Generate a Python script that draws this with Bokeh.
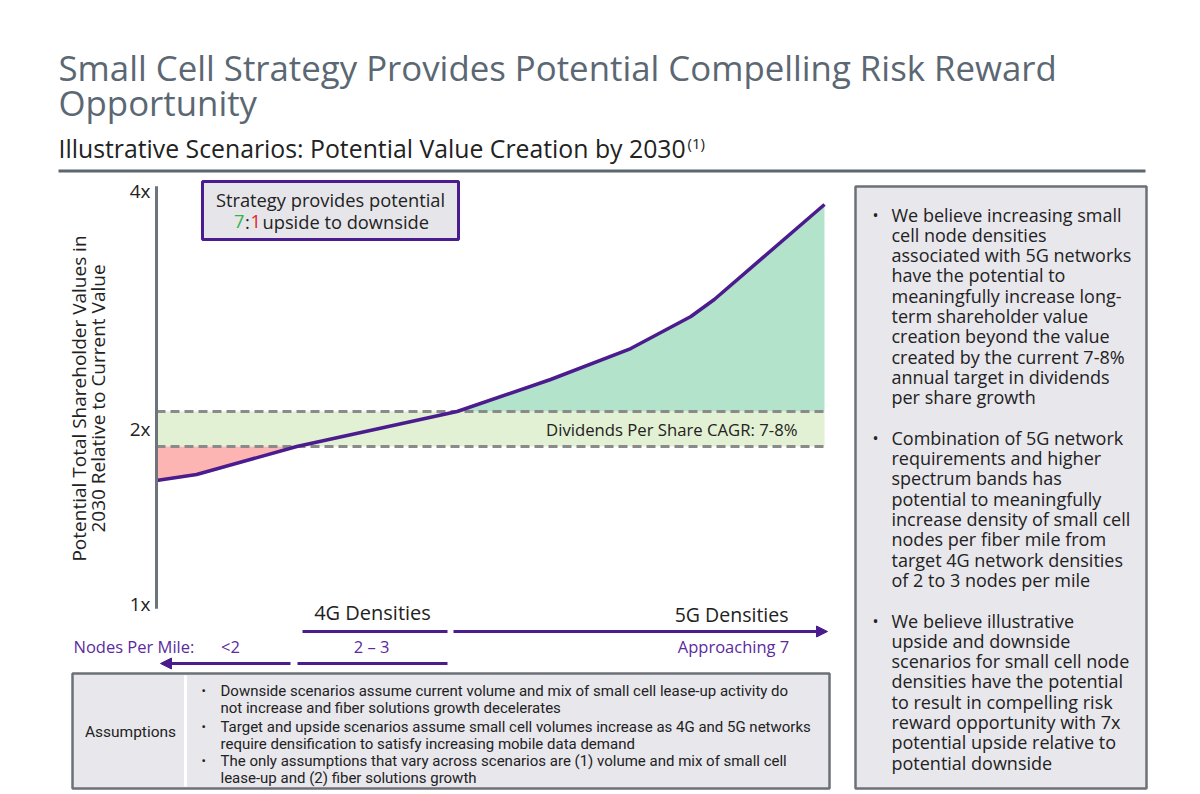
from bokeh.plotting import figure
from bokeh.models import Range1d, Label, BoxAnnotation, Arrow, NormalHead
from bokeh.core.properties import value
from bokeh.embed import file_html
from bokeh.resources import INLINE
import numpy as np

# ---------------- data ----------------
SCENARIO_X = [0, 6, 21, 45, 59, 71, 80, 83.5, 100]
VALUE_MULTIPLE = [1.703, 1.737, 1.897, 2.097, 2.28, 2.457, 2.64, 2.737, 3.28]
DPS_BAND_LOW = 1.897
DPS_BAND_HIGH = 2.097
Y_TICKS = [1.0, 2.0, 3.36]
Y_TICK_LABELS = ["1x", "2x", "4x"]
Y_AXIS_BOUNDS = [0.97, 3.385]

TITLE_LINES = ["Small Cell Strategy Provides Potential Compelling Risk Reward", "Opportunity"]
SUBTITLE = "Illustrative Scenarios: Potential Value Creation by 2030"
Y_LABEL_LINES = ["Potential Total Shareholder Values in", "2030 Relative to Current Value"]
BAND_LABEL = "Dividends Per Share CAGR: 7-8%"
RIGHT_PARAS = [
    ["We believe increasing small", "cell node densities", "associated with 5G networks",
     "have the potential to", "meaningfully increase long-", "term shareholder value",
     "creation beyond the value", "created by the current 7-8%", "annual target in dividends",
     "per share growth"],
    ["Combination of 5G network", "requirements and higher", "spectrum bands has",
     "potential to meaningfully", "increase density of small cell", "nodes per fiber mile from",
     "target 4G network densities", "of 2 to 3 nodes per mile"],
    ["We believe illustrative", "upside and downside", "scenarios for small cell node",
     "densities have the potential", "to result in compelling risk", "reward opportunity with 7x",
     "potential upside relative to", "potential downside"],
]
ASSUMPTIONS = [
    ["Downside scenarios assume current volume and mix of small cell lease-up activity do",
     "not increase and fiber solutions growth decelerates"],
    ["Target and upside scenarios assume small cell volumes increase as 4G and 5G networks",
     "require densification to satisfy increasing mobile data demand"],
    ["The only assumptions that vary across scenarios are (1) volume and mix of small cell",
     "lease-up and (2) fiber solutions growth"],
]

# ---------------- styles / layout ----------------
PURPLE = "#4b1c8e"
PURPLE_TXT = "#5b2a9e"
DARK = "#222222"
GRAY_T = "#5b6773"
FONT = "Open Sans"

W, H = 1200, 794
CH_L, CH_R = 156, 824      # page x of scenario 0 and 100
PX_PER_UNIT_Y = 175.0
Y1_PAGE = 603              # page y of the 1x tick

px_per_x = (CH_R - CH_L) / 100.0
sx_range = Range1d(-CH_L / px_per_x, (W - CH_L) / px_per_x)
val_range = Range1d(1 - (H - Y1_PAGE) / PX_PER_UNIT_Y, 1 + Y1_PAGE / PX_PER_UNIT_Y)

p = figure(width=W, height=H, output_backend="svg", toolbar_location=None,
           x_range=Range1d(0, W), y_range=Range1d(H, 0),
           x_axis_type=None, y_axis_type=None, min_border=0)
p.extra_x_ranges = {"sx": sx_range}
p.extra_y_ranges = {"val": val_range}
p.background_fill_color = "white"
p.border_fill_color = "white"
p.outline_line_color = None
CH = dict(x_range_name="sx", y_range_name="val")

# ---------------- chart glyphs ----------------
xs = np.array(SCENARIO_X, dtype=float)
vs = np.array(VALUE_MULTIPLE, dtype=float)
p.varea(x=[xs[0], xs[-1]], y1=[DPS_BAND_LOW] * 2, y2=[DPS_BAND_HIGH] * 2, color="#e2f0d3", **CH)
p.varea(x=xs, y1=np.full_like(vs, DPS_BAND_HIGH), y2=np.maximum(vs, DPS_BAND_HIGH), color="#b3e4cb", **CH)
p.varea(x=xs, y1=np.minimum(vs, DPS_BAND_LOW), y2=np.full_like(vs, DPS_BAND_LOW), color="#fdb5b3", **CH)
for yv in (DPS_BAND_LOW, DPS_BAND_HIGH):
    p.line(x=[xs[0], xs[-1]], y=[yv, yv], line_color="#8a8a8a", line_width=3, line_dash="9 5", **CH)
p.line(x=xs, y=vs, line_color=PURPLE, line_width=3.5, line_join="round", **CH)

# value axis (line + tick labels on the value scale)
p.line(x=[0, 0], y=Y_AXIS_BOUNDS, line_color="#6d757c", line_width=3, **CH)
p.text(x=[0] * len(Y_TICKS), y=Y_TICKS, text=Y_TICK_LABELS, x_offset=-6,
       text_font=value(FONT), text_font_size="19px", text_color=DARK,
       text_align="right", text_baseline="middle", **CH)


# ---------------- decorations (page pixel coordinates) ----------------
def box(l, r, t, b, fill, line, lw):
    p.add_layout(BoxAnnotation(left=l, right=r, top=t, bottom=b,
                               fill_color=fill, fill_alpha=1, line_color=line, line_width=lw, line_alpha=1))


def seg(x0, y0, x1, y1, color, lw, head=False, size=11):
    end = NormalHead(size=size, fill_color=color, line_color=color, line_width=1) if head else None
    p.add_layout(Arrow(x_start=x0, y_start=y0, x_end=x1, y_end=y1,
                       line_color=color, line_width=lw, end=end))


def txt(x, y, s, size, color=DARK, align="left", font=FONT, angle=0.0):
    p.add_layout(Label(x=x, y=y, text=s, angle=angle,
                       text_font=font, text_font_size=f"{size}px", text_color=color,
                       text_align=align, text_baseline="middle"))


# title
txt(58, 67, TITLE_LINES[0], 34.8, GRAY_T)
txt(58, 102, TITLE_LINES[1], 34.8, GRAY_T)
txt(58, 147, SUBTITLE, 24.8, DARK)
txt(687, 142, "(1)", 15, DARK)
seg(58, 170.5, 1145, 170.5, "#5d6770", 3)

# axis title
txt(78, 398, Y_LABEL_LINES[0], 19, DARK, "center", angle=np.pi / 2)
txt(97, 398, Y_LABEL_LINES[1], 19, DARK, "center", angle=np.pi / 2)

# strategy box
box(202, 458, 181, 239, "#e6e6ea", PURPLE, 3)
txt(330, 199, "Strategy provides potential", 18.3, DARK, "center")
txt(244, 221, "7", 18.3, "#2fb54b", "right")
txt(247, 221, ":", 18.3, DARK, "center")
txt(250, 221, "1", 18.3, "#e3262d", "left")
txt(262, 221, "upside to downside", 18.3, DARK, "left")

# band label
txt(797, 429, BAND_LABEL, 16.7, DARK, "right")

# densities
txt(372, 612, "4G Densities", 20, DARK, "center")
txt(788, 614, "5G Densities", 19.5, DARK, "right")
seg(302, 631, 447, 631, PURPLE, 3)
seg(453, 631, 827, 631, PURPLE, 3, head=True)
txt(73, 646, "Nodes Per Mile:", 16.5, PURPLE_TXT)
txt(230, 646, "<2", 16.5, PURPLE_TXT, "center")
txt(371, 646, "2 \u2013 3", 16.5, PURPLE_TXT, "center")
txt(733, 646, "Approaching 7", 16.5, PURPLE_TXT, "center")
seg(290, 663, 160, 663, PURPLE, 3, head=True)
seg(297, 663, 447, 663, PURPLE, 3)

# right text box
box(855, 1146, 186, 788, "#e8e7ec", "#6c7178", 2.5)
ly = 214
for para in RIGHT_PARAS:
    txt(872, ly, "\u2022", 16, DARK)
    for line in para:
        txt(891, ly, line, 18, DARK)
        ly += 20.3
    ly += 20.3

# assumptions box
box(72, 829, 673, 788, "#e8e7ec", "#6c7178", 2.5)
seg(185, 675, 185, 786, "#ffffff", 3)
txt(130, 731, "Assumptions", 15.5, DARK, "center", "Roboto")
ay = [690, 726, 760]
for y0, lines in zip(ay, ASSUMPTIONS):
    txt(201, y0, "\u2022", 13, DARK, "left", "Roboto")
    for k, line in enumerate(lines):
        txt(220, y0 + k * 17, line, 15, DARK, "left", "Roboto")

open("out.html", "w").write(file_html(p, INLINE))
